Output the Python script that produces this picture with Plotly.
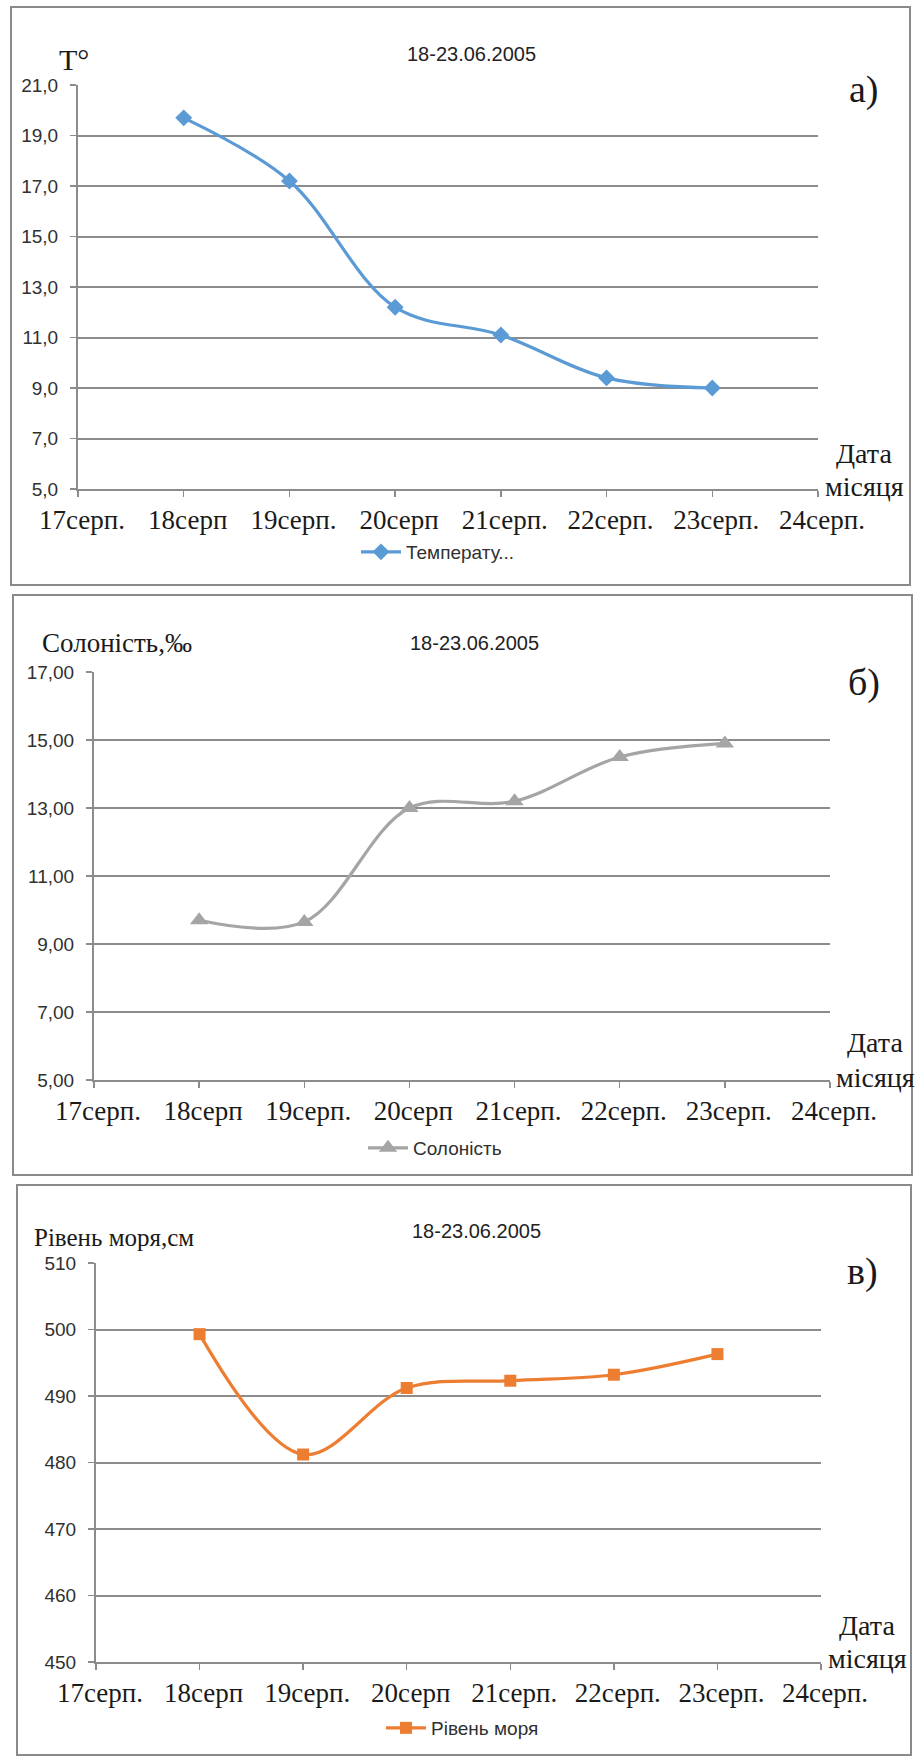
import plotly.graph_objects as go

# ---------------- data ----------------
day_ticks = [17, 18, 19, 20, 21, 22, 23, 24]
day_labels = ["17серп.", "18серп", "19серп.", "20серп", "21серп.", "22серп.", "23серп.", "24серп."]
days = [18, 19, 20, 21, 22, 23]

temperature = [19.7, 17.2, 12.2, 11.1, 9.4, 9.0]
salinity = [9.7, 9.65, 13.0, 13.2, 14.5, 14.9]
sea_level = [499.3, 481.2, 491.2, 492.3, 493.2, 496.3]

temp_ticks = [5, 7, 9, 11, 13, 15, 17, 19, 21]
temp_labels = ["5,0", "7,0", "9,0", "11,0", "13,0", "15,0", "17,0", "19,0", "21,0"]
sal_ticks = [5, 7, 9, 11, 13, 15, 17]
sal_labels = ["5,00", "7,00", "9,00", "11,00", "13,00", "15,00", "17,00"]
lvl_ticks = [450, 460, 470, 480, 490, 500, 510]
lvl_labels = ["450", "460", "470", "480", "490", "500", "510"]

period = "18-23.06.2005"
names = ["Температу...", "Солоність", "Рівень моря"]
y_titles = ["T°", "Солоність,‰", "Рівень моря,см"]
panel_tags = ["а)", "б)", "в)"]

# ---------------- layout helpers ----------------
W, H = 915, 1758
def px(x):
    return x / W
def py(y):
    return 1 - y / H

SERIF = "Liberation Serif"
SANS = "Liberation Sans"
GRID = "#8c8c8c"
TXT = "#1a1a1a"

panels = [
    dict(x0=78, x1=818, y0=85, y1=489, box=(11, 7, 910, 585)),
    dict(x0=94, x1=830, y0=672, y1=1080, box=(13, 595, 912, 1175)),
    dict(x0=96, x1=821, y0=1263, y1=1662, box=(17, 1185, 911, 1755)),
]
colors = ["#5B9BD5", "#A5A5A5", "#ED7D31"]
symbols = ["diamond", "triangle-up", "square"]
msizes = [13, 16, 12]
series = [temperature, salinity, sea_level]
yticks = [(temp_ticks, temp_labels), (sal_ticks, sal_labels), (lvl_ticks, lvl_labels)]

fig = go.Figure()
layout = dict(
    template="none",
    width=W, height=H, margin=dict(l=0, r=0, t=0, b=0, autoexpand=False),
    paper_bgcolor="white", plot_bgcolor="white", shapes=[], annotations=[],
)

legend_pos = [(356, 552), (363, 1148), (381, 1728)]
title_pos = [(472, 54), (474, 643), (477, 1231)]
ytitle_pos = [(57, 60, 30), (40, 643, 27), (32, 1237, 25)]
tag_pos = [(864, 90), (864, 682), (862, 1271)]
date_pos = [(864, 454, 487), (875, 1042, 1077), (867, 1625, 1658)]

for i, p in enumerate(panels):
    n = "" if i == 0 else str(i + 1)
    xa, ya = "xaxis" + n, "yaxis" + n
    tv, tt = yticks[i]
    layout[xa] = dict(
        domain=[px(p["x0"]), px(p["x1"])], anchor="y" + n, automargin=False,
        range=[day_ticks[0], day_ticks[-1]], tickvals=day_ticks, ticktext=day_labels,
        showgrid=False, zeroline=False, showline=True, linecolor=GRID, linewidth=2,
        ticks="outside", ticklen=6, tickcolor=GRID, tickwidth=1.5,
        tickfont=dict(family=SERIF, size=27, color=TXT), ticklabelstandoff=0,
        ticklabelshift=4, fixedrange=True,
    )
    layout[ya] = dict(
        domain=[py(p["y1"]), py(p["y0"])], anchor="x" + n, automargin=False,
        range=[tv[0], tv[-1]], tickvals=tv, ticktext=tt,
        showgrid=True, gridcolor=GRID, gridwidth=2, zeroline=False,
        showline=True, linecolor=GRID, linewidth=2,
        ticks="outside", ticklen=6, tickcolor=GRID, tickwidth=1.5,
        tickfont=dict(family=SANS, size=19, color="#303030"), ticklabelstandoff=8,
        fixedrange=True,
    )
    fig.add_trace(go.Scatter(
        x=days, y=series[i], name=names[i], mode="lines+markers",
        xaxis="x" + n, yaxis="y" + n,
        line=dict(color=colors[i], width=3.2, shape="spline", smoothing=1.0),
        marker=dict(symbol=symbols[i], size=msizes[i], color=colors[i]),
        showlegend=True, legend="legend" + n,
    ))
    lx, ly = legend_pos[i]
    layout["legend" + n] = dict(
        x=px(lx), y=py(ly), xanchor="left", yanchor="middle",
        font=dict(family=SANS, size=19, color="#303030"),
        bgcolor="rgba(0,0,0,0)", borderwidth=0, itemwidth=40,
    )
    bx0, by0, bx1, by1 = p["box"]
    layout["shapes"].append(dict(
        type="rect", xref="paper", yref="paper",
        x0=px(bx0), x1=px(bx1), y0=py(by1), y1=py(by0),
        line=dict(color="#8a8a8a", width=2), fillcolor="rgba(0,0,0,0)",
    ))
    tx, ty = title_pos[i]
    layout["annotations"].append(dict(
        text=period, x=px(tx), y=py(ty), xref="paper", yref="paper",
        xanchor="center", yanchor="middle", showarrow=False,
        font=dict(family=SANS, size=20, color="#222"),
    ))
    yx, yy, ys = ytitle_pos[i]
    layout["annotations"].append(dict(
        text=y_titles[i], x=px(yx), y=py(yy), xref="paper", yref="paper",
        xanchor="left", yanchor="middle", showarrow=False,
        font=dict(family=SERIF, size=ys, color=TXT),
    ))
    gx, gy = tag_pos[i]
    layout["annotations"].append(dict(
        text=panel_tags[i], x=px(gx), y=py(gy), xref="paper", yref="paper",
        xanchor="center", yanchor="middle", showarrow=False,
        font=dict(family=SERIF, size=38, color=TXT),
    ))
    dx, d1, d2 = date_pos[i]
    layout["annotations"].append(dict(
        text="Дата", x=px(dx), y=py(d1), xref="paper", yref="paper",
        xanchor="center", yanchor="middle", showarrow=False,
        font=dict(family=SERIF, size=28, color=TXT),
    ))
    layout["annotations"].append(dict(
        text="місяця", x=px(dx), y=py(d2), xref="paper", yref="paper",
        xanchor="center", yanchor="middle", showarrow=False,
        font=dict(family=SERIF, size=28, color=TXT),
    ))

fig.update_layout(**layout)
fig.write_html(
    "out.html",
    config={"displayModeBar": False, "staticPlot": True},
    post_script="document.body.style.margin='0';document.body.style.overflow='hidden';",
)
